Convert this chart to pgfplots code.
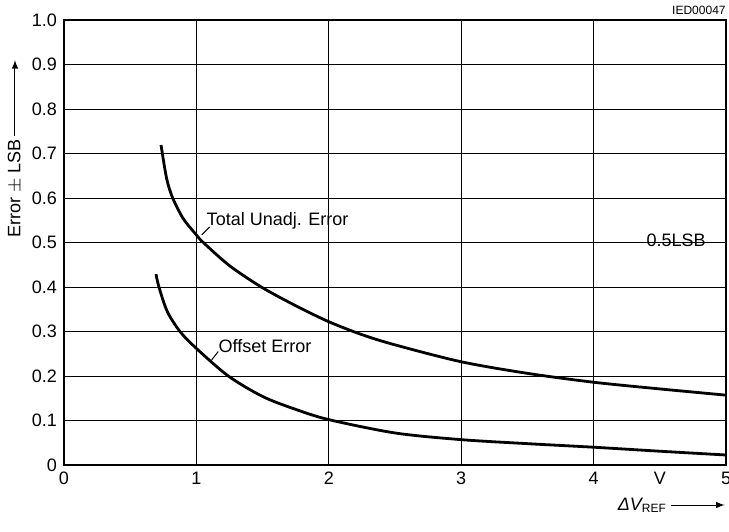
\documentclass[border=0pt]{standalone}
\usepackage{pgfplots}
\pgfplotsset{compat=1.18}
\usepackage{fontspec}
\setmainfont{Liberation Sans}
\begin{document}
\begin{tikzpicture}
\begin{axis}[
  scale only axis,
  width=331pt, height=222.5pt,
  xmin=0, xmax=5, ymin=0, ymax=1.0,
  xtick={0,1,2,3,4,5},
  ytick={0,0.1,0.2,0.3,0.4,0.5,0.6,0.7,0.8,0.9,1.0},
  yticklabels={0,0.1,0.2,0.3,0.4,0.5,0.6,0.7,0.8,0.9,1.0},
  xticklabels={0,1,2,3,4,5},
  grid=major,
  major grid style={black, line width=0.5pt},
  axis line style={black, line width=0.6pt},
  major tick length=0pt,
  tick label style={font=\fontsize{9}{10}\selectfont},
  /pgf/number format/assume math mode=true,
  clip=false,
]
\addplot[black, line width=1.4pt, smooth] coordinates {
 (0.733,0.719) (0.775,0.644) (0.821,0.6) (0.90,0.554) (1.0,0.517) (1.052,0.5) (1.25,0.448) (1.49,0.4) (1.75,0.358) (2.0,0.322) (2.25,0.293) (2.5,0.270) (3.0,0.232) (3.5,0.206) (4.0,0.186) (4.5,0.171) (5.0,0.157)
};
\addplot[black, line width=1.4pt, smooth] coordinates {
 (0.695,0.429) (0.717,0.4) (0.78,0.345) (0.876,0.3) (1.0,0.262) (1.241,0.2) (1.5,0.154) (1.75,0.125) (2.0,0.102) (2.5,0.072) (3.0,0.057) (3.5,0.048) (4.0,0.040) (4.5,0.031) (5.0,0.0225)
};
\draw[black, line width=0.5pt] (axis cs:1.04,0.517) -- (axis cs:1.10,0.535);
\node[anchor=west, font=\fontsize{9}{10}\selectfont, inner sep=0pt] at (axis cs:1.075,0.549) {Total Unadj. Error};
\draw[black, line width=0.5pt] (axis cs:1.115,0.236) -- (axis cs:1.165,0.255);
\node[anchor=west, font=\fontsize{9}{10}\selectfont, inner sep=0pt] at (axis cs:1.165,0.267) {Offset Error};
\node[anchor=east, font=\fontsize{9}{10}\selectfont, inner sep=0pt] at (axis cs:4.85,0.506) {0.5LSB};
\node[anchor=north, font=\fontsize{9}{10}\selectfont] at (axis cs:4.5,0) {V};
\node[anchor=south east, font=\fontsize{6}{7}\selectfont, inner sep=0pt] at ([yshift=2.5pt]rel axis cs:1,1) {IED00047};
\node[rotate=90, font=\fontsize{9}{10}\selectfont, inner sep=0pt] (yl) at ([xshift=-24.5pt]rel axis cs:0,0.622) {Error $\pm$ LSB};
\draw[-latex, line width=0.5pt] ([yshift=1.5pt]yl.east) -- ([xshift=-24.5pt]rel axis cs:0,0.91);
\node[anchor=west, font=\fontsize{9}{10}\selectfont, inner sep=0pt] (xl) at ([yshift=-20pt]axis cs:4.18,0) {{\itshape ΔV}\textsubscript{REF}};
\draw[-latex, line width=0.5pt] ([xshift=2pt]xl.east) -- ([yshift=-20pt]axis cs:4.99,0);
\end{axis}
\pgfresetboundingbox
\path ([shift={(-32pt,-33pt)}]current axis.south west) rectangle ([shift={(1.5pt,10pt)}]current axis.north east);
\end{tikzpicture}
\end{document}
